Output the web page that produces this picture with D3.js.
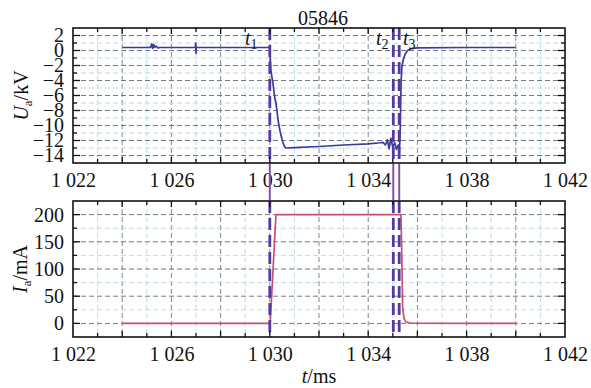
<!DOCTYPE html>
<html>
<head>
<meta charset="utf-8">
<script src="https://cdn.jsdelivr.net/npm/d3@7"></script>
<style>
  html, body { margin: 0; padding: 0; background: #fff; }
  svg { display: block; }
  svg text { font-family: "Liberation Serif", "Times New Roman", Times, "DejaVu Serif", serif !important; fill: #111; }
</style>
</head>
<body>
<svg id="chart" width="591" height="388"></svg>
<script>
// ---- data ----
const chartTitle = "05846";
const xTickValues = [1022, 1026, 1030, 1034, 1038, 1042];
const uTickValues = [2, 0, -2, -4, -6, -8, -10, -12, -14];
const iTickValues = [0, 50, 100, 150, 200];

// voltage U_a (kV)
const uTime = [1024, 1025.15, 1025.2, 1025.24, 1025.28, 1025.32, 1025.38, 1025.45, 1025.55,
  1026.97, 1026.99, 1027.0, 1027.01, 1027.03, 1029.98,
  1030.0, 1030.04, 1030.08, 1030.12, 1030.16, 1030.2, 1030.25, 1030.3, 1030.35, 1030.42, 1030.5, 1030.58, 1030.65,
  1031, 1032, 1033, 1034, 1034.5, 1034.6, 1034.7, 1034.78, 1034.85, 1034.92, 1035.0, 1035.08, 1035.15, 1035.22, 1035.27,
  1035.3, 1035.32, 1035.34, 1035.37, 1035.42, 1035.5, 1035.6, 1035.75, 1036, 1038, 1040];
const uValue = [0.4, 0.4, 0.9, 0.3, 0.8, 0.4, 0.6, 0.35, 0.4,
  0.4, 1.0, -0.4, 0.5, 0.4, 0.4,
  0.3, -2.5, -3.4, -4.2, -5.2, -6.3, -7.0, -8.3, -9.6, -10.8, -11.9, -12.7, -13.0,
  -12.95, -12.8, -12.6, -12.45, -12.3, -12.25, -12.6, -11.9, -13.1, -11.7, -12.9, -12.3, -13.2, -12.6, -13.3,
  -11.0, -7.0, -4.0, -2.2, -1.3, -0.5, 0.0, 0.25, 0.35, 0.4, 0.4];

// current I_a (mA)
const iTime = [1024, 1029.98, 1030.02, 1030.25, 1032, 1035.33, 1035.36, 1035.4, 1035.45, 1035.52, 1035.7, 1038, 1040];
const iValue = [0, 0, 3, 200, 200, 200, 140, 30, 10, 3, 0.5, 0, 0];

// event markers t1, t2, t3 (ms)
const eventTimes = [1030.0, 1035.02, 1035.26];
const eventNames = ["1", "2", "3"];

// ---- layout ----
const FONT = '"Liberation Serif", "Times New Roman", Times, "DejaVu Serif", serif';
const svg = d3.select("#chart");
const L = 73, R = 565;
const top1 = 28, bot1 = 163, top2 = 201, bot2 = 337;

const x = d3.scaleLinear().domain([1022, 1042]).range([L, R]);
const yU = d3.scaleLinear().domain([-15, 3]).range([bot1, top1]);
const yI = d3.scaleLinear().domain([-25, 225]).range([bot2, top2]);

const fmtX = d => { const s = String(d); return s.slice(0, 1) + " " + s.slice(1); };
const fmtY = d => d < 0 ? "\u2212" + Math.abs(d) : String(d);

function panel(y, top, bot, minorStep, majorStep, tickVals, series, color) {
  const g = svg.append("g");
  const xs = d3.range(1023, 1042, 1);
  xs.forEach(v => {
    const major = v % 2 === 0;
    g.append("line").attr("x1", x(v)).attr("x2", x(v)).attr("y1", top).attr("y2", bot)
      .attr("stroke", major ? "#7a8a96" : "#bcdcec").attr("stroke-width", 1)
      .attr("stroke-dasharray", "5,3");
  });
  const [d0, d1] = y.domain();
  const hs = d3.range(Math.ceil(d0 / minorStep) * minorStep, d1 + 1e-9, minorStep)
    .filter(v => y(v) > top + 1 && y(v) < bot - 1);
  hs.forEach(v => {
    const major = Math.abs(v % majorStep) < 1e-9;
    g.append("line").attr("x1", L).attr("x2", R).attr("y1", y(v)).attr("y2", y(v))
      .attr("stroke", major ? "#6f7a84" : "#bcdcec").attr("stroke-width", 1)
      .attr("stroke-dasharray", "5,3");
  });
  g.append("path").datum(series)
    .attr("fill", "none").attr("stroke", color).attr("stroke-width", 1.7)
    .attr("stroke-linejoin", "round")
    .attr("d", d3.line().x(d => x(d[0])).y(d => y(d[1])));
  eventTimes.forEach(t => {
    g.append("line").attr("x1", x(t)).attr("x2", x(t)).attr("y1", top).attr("y2", bot)
      .attr("stroke", "#553a9c").attr("stroke-width", 2.8).attr("stroke-dasharray", "12,5");
  });
  const tg = svg.append("g").attr("stroke", "#111").attr("stroke-width", 1.3);
  d3.range(1023, 1042, 1).forEach(v => {
    const len = v % 2 === 0 ? 6 : 4;
    tg.append("line").attr("x1", x(v)).attr("x2", x(v)).attr("y1", top).attr("y2", top + len);
    tg.append("line").attr("x1", x(v)).attr("x2", x(v)).attr("y1", bot).attr("y2", bot - len);
  });
  hs.forEach(v => {
    const len = Math.abs(v % majorStep) < 1e-9 ? 7 : 4;
    tg.append("line").attr("x1", L).attr("x2", L + len).attr("y1", y(v)).attr("y2", y(v));
    tg.append("line").attr("x1", R).attr("x2", R - len).attr("y1", y(v)).attr("y2", y(v));
  });
  svg.append("rect").attr("x", L).attr("y", top).attr("width", R - L).attr("height", bot - top)
    .attr("fill", "none").attr("stroke", "#111").attr("stroke-width", 1.6);
  const ya = svg.append("g").attr("transform", `translate(${L},0)`)
    .call(d3.axisLeft(y).tickValues(tickVals).tickFormat(fmtY).tickSize(0).tickPadding(9));
  ya.attr("font-family", FONT).attr("font-size", 20);
  ya.select(".domain").remove();
  ya.selectAll("text").attr("fill", "#111");
  const xa = svg.append("g").attr("transform", `translate(0,${bot})`)
    .call(d3.axisBottom(x).tickValues(xTickValues).tickFormat(fmtX).tickSize(0).tickPadding(10));
  xa.attr("font-family", FONT).attr("font-size", 20);
  xa.select(".domain").remove();
  xa.selectAll("text").attr("fill", "#111");
}

const uSeries = uTime.map((t, i) => [t, uValue[i]]);
const iSeries = iTime.map((t, i) => [t, iValue[i]]);

panel(yU, top1, bot1, 1, 2, uTickValues, uSeries, "#3a3c9c");
panel(yI, top2, bot2, 25, 50, iTickValues, iSeries, "#c9506c");

eventTimes.forEach(t => {
  svg.append("line").attr("x1", x(t)).attr("x2", x(t)).attr("y1", bot1 + 1).attr("y2", top2 - 1)
    .attr("stroke", "#8552a6").attr("stroke-width", 2);
});

svg.append("text").attr("x", (L + R) / 2 + 4).attr("y", 25).attr("text-anchor", "middle")
  .attr("font-family", FONT).attr("font-size", 20).text(chartTitle);

const evLabelX = [245, 376, 403];
eventNames.forEach((n, i) => {
  const t = svg.append("text").attr("x", evLabelX[i]).attr("y", 45)
    .attr("font-family", FONT).attr("font-size", 20);
  t.append("tspan").attr("font-style", "italic").text("t");
  t.append("tspan").attr("dy", 4).attr("font-size", 14).text(n);
});

const yt1 = svg.append("text").attr("transform", `translate(28,${(top1 + bot1) / 2}) rotate(-90)`)
  .attr("text-anchor", "middle").attr("font-family", FONT).attr("font-size", 20);
yt1.append("tspan").attr("font-style", "italic").text("U");
yt1.append("tspan").attr("dy", 4).attr("font-size", 13).text("a");
yt1.append("tspan").attr("dy", -4).text("/kV");

const yt2 = svg.append("text").attr("transform", `translate(27,${(top2 + bot2) / 2}) rotate(-90)`)
  .attr("text-anchor", "middle").attr("font-family", FONT).attr("font-size", 20);
yt2.append("tspan").attr("font-style", "italic").text("I");
yt2.append("tspan").attr("dy", 4).attr("font-size", 13).text("a");
yt2.append("tspan").attr("dy", -4).text("/mA");

const xt = svg.append("text").attr("x", (L + R) / 2).attr("y", 383).attr("text-anchor", "middle")
  .attr("font-family", FONT).attr("font-size", 20);
xt.append("tspan").attr("font-style", "italic").text("t");
xt.append("tspan").text("/ms");
</script>
</body>
</html>
